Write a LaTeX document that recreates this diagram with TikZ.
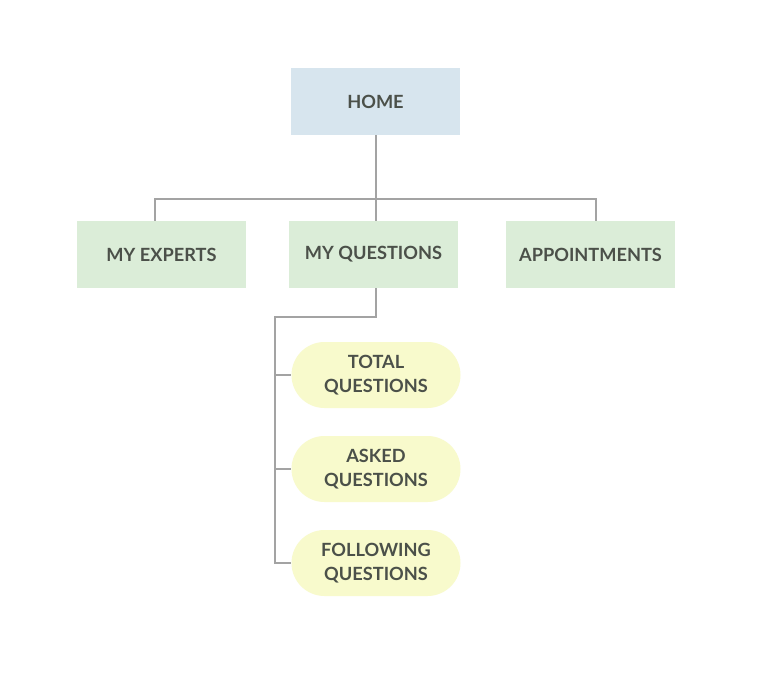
\documentclass[tikz,border=0pt]{standalone}
\usepackage{fontspec}
\setmainfont{Lato}
\begin{document}
\begin{tikzpicture}[x=1pt,y=-1pt,
  lbl/.style={font=\fontsize{18.2}{24}\selectfont\bfseries, text=txtc, align=center, inner sep=0pt},
  homebox/.style={lbl, fill=homec, minimum width=169pt, minimum height=67pt},
  greenbox/.style={lbl, fill=greenc, minimum width=169pt, minimum height=67pt},
  pill/.style={lbl, fill=pillc, rounded corners=33pt, minimum width=169pt, minimum height=66pt},
  conn/.style={draw=linec, line width=1.4pt}]
\definecolor{homec}{HTML}{D7E5EE}
\definecolor{greenc}{HTML}{DBEDD8}
\definecolor{pillc}{HTML}{F8FACC}
\definecolor{txtc}{HTML}{4B5049}
\definecolor{linec}{HTML}{A3A3A3}
\useasboundingbox[fill=white] (0,0) rectangle (776,674);
\node[homebox] (home) at (375.5,101.5) {HOME};
\node[greenbox] (experts) at (161.5,254.5) {MY EXPERTS};
\node[greenbox] (questions) at (373.5,254.5) {MY QUESTIONS};
\node[greenbox] (appts) at (590.5,254.5) {APPOINTMENTS};
\node[pill] (total) at (376,375) {TOTAL\\QUESTIONS};
\node[pill] (asked) at (376,469) {ASKED\\QUESTIONS};
\node[pill] (following) at (376,563) {FOLLOWING\\QUESTIONS};
\coordinate (bus) at (376,199);
\coordinate (qdown) at (376,317);
\coordinate (qleft) at (275,317);
\draw[conn] (home.south -| bus) -- (questions.north -| bus);
\draw[conn] (experts.north -| 155,0) |- (bus) -| (appts.north -| 596,0);
\draw[conn] (questions.south -| qdown) -- (qdown) -- (qleft) |- (following.west);
\draw[conn] (qleft |- total.west) -- (total.west);
\draw[conn] (qleft |- asked.west) -- (asked.west);
\end{tikzpicture}
\end{document}
